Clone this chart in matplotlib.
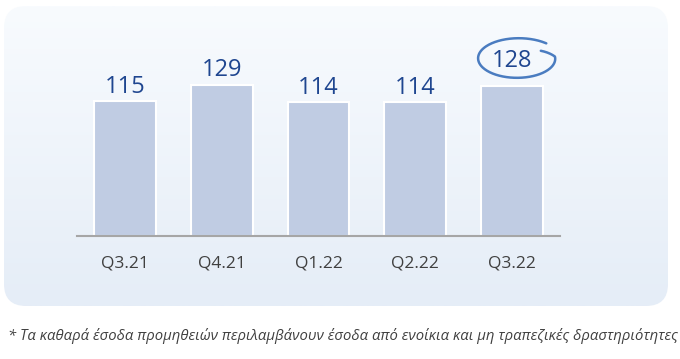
import matplotlib
matplotlib.use("Agg")
import matplotlib.pyplot as plt
from matplotlib.patches import FancyBboxPatch
import numpy as np

# Veriler
quarters = ["Q3.21", "Q4.21", "Q1.22", "Q2.22", "Q3.22"]
values = [115, 129, 114, 114, 128]
highlight = "Q3.22"
footnote = "* Τα καθαρά έσοδα προμηθειών περιλαμβάνουν έσοδα από ενοίκια και μη τραπεζικές δραστηριότητες"

W, H = 680, 359
fig = plt.figure(figsize=(W / 100, H / 100), dpi=100)
fig.patch.set_facecolor("white")

# Arka plan paneli (yuvarlak köşeli, degrade)
bg = fig.add_axes([0, 0, 1, 1])
bg.set_xlim(0, W)
bg.set_ylim(H, 0)
bg.axis("off")
grad = np.linspace(0, 1, 256).reshape(-1, 1)
top_c = np.array([248, 251, 254]) / 255
bot_c = np.array([229, 237, 247]) / 255
img = top_c + (bot_c - top_c) * grad[..., None]
im = bg.imshow(img, extent=[4, 668, 306, 6], aspect="auto", zorder=0)
panel = FancyBboxPatch((4 + 22, 6 + 22), 664 - 44, 300 - 44,
                       boxstyle="round,pad=22", transform=bg.transData,
                       facecolor="none", edgecolor="none")
bg.add_patch(panel)
im.set_clip_path(panel)

# Ana grafik
ax = fig.add_axes([77 / W, 1 - 236 / H, 483 / W, 216 / H])
ax.patch.set_alpha(0)
x = np.arange(len(quarters))
ax.bar(x, values, width=0.64, color="#C0CCE3", edgecolor="white", linewidth=1.5, zorder=2)
ax.set_xlim(-0.5, len(quarters) - 0.5)
ax.set_ylim(0, 184)

hi = quarters.index(highlight)
for xi, v in zip(x, values):
    gap = 16 if xi == hi else 7
    ax.text(xi, v + gap, str(v), ha="center", va="baseline", fontsize=17,
            color="#1F4690", family=["Open Sans", "DejaVu Sans"])

# Vurgulanan değerin etrafına elle çizilmiş halka
t = np.linspace(0.6, 0.82 - 2 * np.pi, 240)
s = (t[0] - t) / (t[0] - t[-1])
r = 1 + 0.12 * s ** 2 - 0.25 * np.clip(1 - s / 0.08, 0, 1)
cx, cy = hi + 0.06, values[hi] + 23
ax.plot(cx + 0.39 * r * np.cos(t), cy + 16 * r * np.sin(t),
        color="#4A7CC0", linewidth=1.8, solid_capstyle="round", zorder=3)

for sp in ["top", "right", "left"]:
    ax.spines[sp].set_visible(False)
ax.spines["bottom"].set_color("#A6A6A6")
ax.spines["bottom"].set_linewidth(1.5)
ax.set_yticks([])
ax.set_xticks(x)
ax.set_xticklabels(quarters, fontsize=12.5, color="#404040", family=["Open Sans", "DejaVu Sans"])
ax.tick_params(axis="x", length=0, pad=14)

fig.text(8 / W, 1 - 336 / H, footnote, ha="left", va="center", fontsize=10.7,
         style="italic", color="#404040", family=["Open Sans", "DejaVu Sans"])

fig.savefig("out.png", dpi=100)
